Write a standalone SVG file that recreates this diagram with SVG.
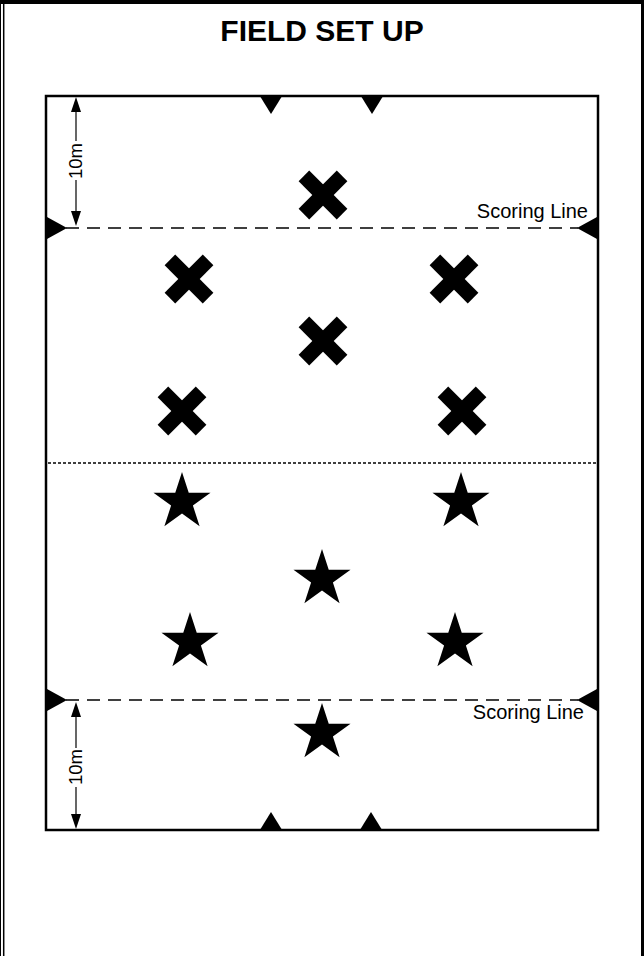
<svg xmlns="http://www.w3.org/2000/svg" width="644" height="956" viewBox="0 0 644 956">
<style>
.t{font-family:"Liberation Sans",Arial,sans-serif;fill:#000}
.title{font-size:30px;font-weight:bold;text-anchor:middle}
.lbl{font-size:20px;text-anchor:end}
.dim{font-size:18.5px;text-anchor:middle}
.fill{fill:#000;stroke:none}
.ln{stroke:#000;fill:none}
</style>
<defs>
<g id="cross"><rect x="-27" y="-7.5" width="54" height="15" transform="rotate(45)"/><rect x="-27" y="-7.5" width="54" height="15" transform="rotate(-45)"/></g>
<polygon id="star" points="0,-30 6.74,-9.27 28.53,-9.27 10.9,3.54 17.63,24.27 0,11.46 -17.63,24.27 -10.9,3.54 -28.53,-9.27 -6.74,-9.27"/>
<polygon id="triD" points="-10.5,0 10.5,0 0,17"/>
<polygon id="triU" points="-10.5,0 10.5,0 0,-17"/>
<polygon id="arrUp" points="0,0 -5,15 5,15"/>
<polygon id="arrDn" points="0,0 -5,-15 5,-15"/>
</defs>
<rect width="644" height="956" fill="#fff"/>
<g id="frame">
<line x1="0.5" y1="0" x2="0.5" y2="956" class="ln" stroke-width="1"/>
<line x1="3.7" y1="2" x2="3.7" y2="956" class="ln" stroke-width="1.5"/>
<line x1="642.5" y1="0" x2="642.5" y2="956" class="ln" stroke-width="3"/>
<line x1="0" y1="2" x2="644" y2="2" class="ln" stroke-width="4"/>
</g>
<text id="title" class="t title" x="322" y="41">FIELD SET UP</text>
<g id="field">
<rect x="46" y="96" width="552" height="734" class="ln" stroke-width="2.5"/>
</g>
<g id="connectors">
<line x1="66" y1="228" x2="578" y2="228" class="ln" stroke-width="1.5" stroke-dasharray="13,8"/>
<line x1="66" y1="700" x2="578" y2="700" class="ln" stroke-width="1.5" stroke-dasharray="13,8"/>
<line x1="48" y1="463" x2="596" y2="463" class="ln" stroke-width="1.3" stroke-dasharray="3,2"/>
<line x1="76" y1="110" x2="76" y2="141" class="ln" stroke-width="1.2"/>
<line x1="76" y1="180" x2="76" y2="212" class="ln" stroke-width="1.2"/>
<use href="#arrUp" x="76" y="97" class="fill"/>
<use href="#arrDn" x="76" y="226" class="fill"/>
<line x1="76" y1="716" x2="76" y2="748" class="ln" stroke-width="1.2"/>
<line x1="76" y1="787" x2="76" y2="815" class="ln" stroke-width="1.2"/>
<use href="#arrUp" x="76" y="702" class="fill"/>
<use href="#arrDn" x="76" y="829" class="fill"/>
</g>
<g id="markers" class="fill">
<use href="#triD" x="271" y="97"/>
<use href="#triD" x="372" y="97"/>
<use href="#triU" x="271" y="829"/>
<use href="#triU" x="371" y="829"/>
<polygon points="47,217 47,239 67,228"/>
<polygon points="597,217 597,239 577,228"/>
<polygon points="47,689 47,711 67,700"/>
<polygon points="597,689 597,711 577,700"/>
</g>
<g id="labels">
<text class="t lbl" x="588" y="218">Scoring Line</text>
<text class="t lbl" x="584" y="719">Scoring Line</text>
<text class="t dim" transform="translate(82,161) rotate(-90)">10m</text>
<text class="t dim" transform="translate(82,767) rotate(-90)">10m</text>
</g>
<g id="crosses" class="fill">
<use id="x1" href="#cross" x="323" y="195"/>
<use id="x2" href="#cross" x="189" y="279"/>
<use id="x3" href="#cross" x="454" y="279"/>
<use id="x4" href="#cross" x="323" y="341"/>
<use id="x5" href="#cross" x="182" y="411"/>
<use id="x6" href="#cross" x="462" y="411"/>
</g>
<g id="stars" class="fill">
<use id="s1" href="#star" x="182" y="502"/>
<use id="s2" href="#star" x="461" y="502"/>
<use id="s3" href="#star" x="322" y="579"/>
<use id="s4" href="#star" x="190" y="642"/>
<use id="s5" href="#star" x="455" y="642"/>
<use id="s6" href="#star" x="322" y="733"/>
</g>
</svg>
